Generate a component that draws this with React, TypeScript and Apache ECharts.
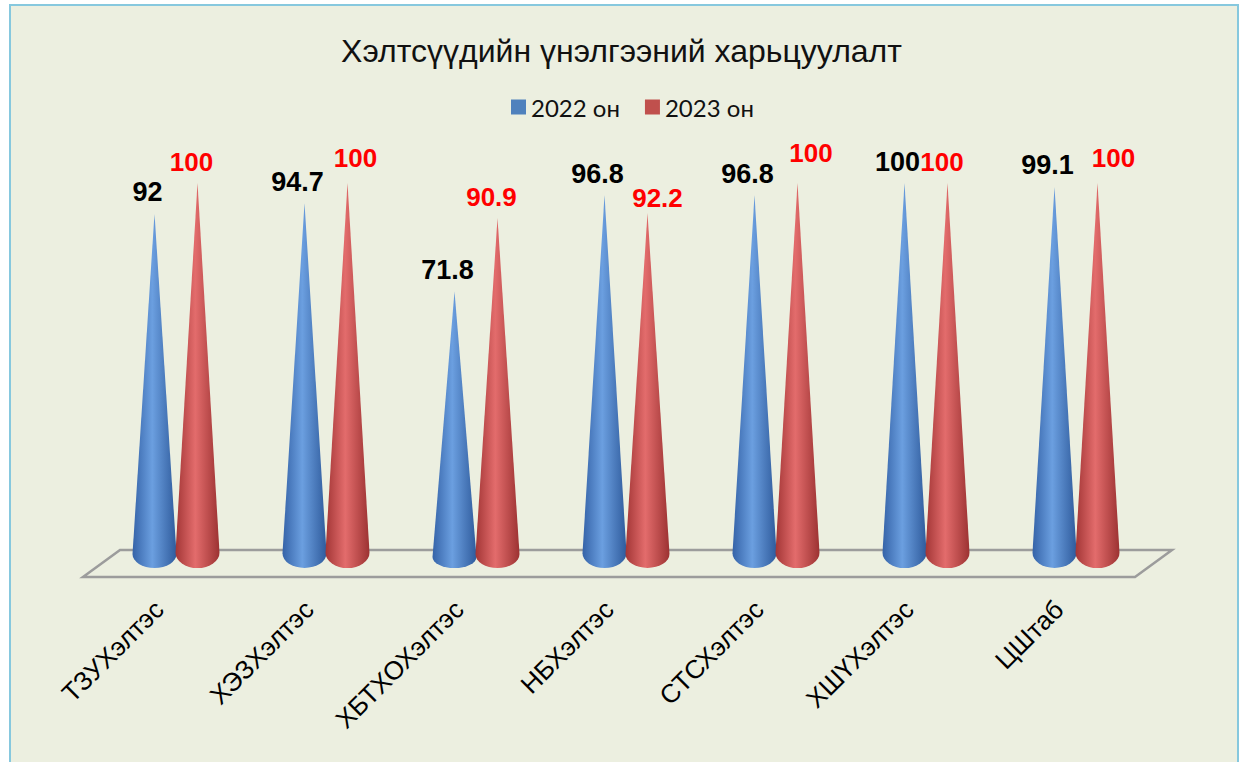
import React, { useEffect, useRef } from "react";
import * as echarts from "echarts";

const categories = ["ТЗУХэлтэс", "ХЭЗХэлтэс", "ХБТХОХэлтэс", "НБХэлтэс", "СТСХэлтэс", "ХШҮХэлтэс", "ЦШтаб"];
const values2022 = [92, 94.7, 71.8, 96.8, 96.8, 100, 99.1];
const values2023 = [100, 100, 90.9, 92.2, 100, 100, 100];
const seriesNames = ["2022 он", "2023 он"];
const title = "Хэлтсүүдийн үнэлгээний харьцуулалт";

// hand-placed label nudges of the 2023 series (pixels), as in the reference
const labelNudge2023 = [[-6, 0], [8, -4], [-6, 0], [10, 5.5], [13.5, -9.5], [-5.5, 0], [16, -4]];

const FONT = "'Liberation Sans', Arial, sans-serif";
const CONE = "path://M50,0 L100,96 A50,4 0 0 1 0,96 Z";

export default function App() {
  const ref = useRef<HTMLDivElement>(null);
  useEffect(() => {
    const chart = echarts.init(ref.current!, null, { renderer: "svg" });
    const blueGrad = new echarts.graphic.LinearGradient(0, 0, 1, 0, [
      { offset: 0, color: "#3563A8" },
      { offset: 0.45, color: "#6B9FE0" },
      { offset: 1, color: "#2F5B9C" },
    ]);
    const redGrad = new echarts.graphic.LinearGradient(0, 0, 1, 0, [
      { offset: 0, color: "#A33636" },
      { offset: 0.45, color: "#E36C6C" },
      { offset: 1, color: "#9C3232" },
    ]);
    chart.setOption({
      animation: false,
      backgroundColor: "#ffffff",
      title: {
        text: title,
        left: "center",
        top: 30,
        textStyle: { fontFamily: FONT, fontSize: 32, fontWeight: "normal", color: "#111" },
      },
      legend: {
        top: 90,
        left: 506,
        itemWidth: 15,
        itemHeight: 15,
        itemGap: 25,
        icon: "rect",
        textStyle: { fontFamily: "Lato, 'Open Sans', sans-serif", fontSize: 24, color: "#111" },
        data: [
          { name: seriesNames[0], itemStyle: { color: "#4F81BD" } },
          { name: seriesNames[1], itemStyle: { color: "#C0504D" } },
        ],
      },
      graphic: [
        {
          type: "rect",
          z: -10,
          shape: { x: 10, y: 5, width: 1228, height: 775 },
          style: { fill: "#ECEFE0", stroke: "#86C8DE", lineWidth: 2 },
        },
        {
          type: "polygon",
          z: 1,
          shape: { points: [[120, 550], [1172, 550], [1135, 577], [83, 577]] },
          style: { fill: "none", stroke: "#9C9C9C", lineWidth: 2.5 },
        },
      ],
      grid: [
        { left: 101, width: 1050, top: 183, bottom: 194 },
        { left: 84, width: 1050, top: 183, bottom: 194 },
      ],
      xAxis: [
        {
          type: "category",
          gridIndex: 0,
          data: categories,
          axisLine: { show: false },
          axisTick: { show: false },
          axisLabel: { show: false },
        },
        {
          type: "category",
          gridIndex: 1,
          data: categories,
          axisLine: { show: false },
          axisTick: { show: false },
          axisLabel: {
            rotate: 45,
            margin: 37,
            fontFamily: FONT,
            fontSize: 26,
            color: "#000",
            interval: 0,
          },
        },
      ],
      yAxis: [
        { type: "value", gridIndex: 0, min: 0, max: 100, show: false },
        { type: "value", gridIndex: 1, min: 0, max: 100, show: false },
      ],
      series: [
        {
          name: seriesNames[0],
          type: "pictorialBar",
          xAxisIndex: 0,
          yAxisIndex: 0,
          data: values2022,
          symbol: CONE,
          symbolSize: [44, "100%"],
          barWidth: 43,
          barGap: "0%",
          z: 3,
          itemStyle: { color: blueGrad },
          label: {
            show: true,
            position: "top",
            distance: 8,
            offset: [-7, 0],
            fontFamily: FONT,
            fontSize: 27,
            fontWeight: "bold",
            color: "#000",
          },
        },
        {
          name: seriesNames[1],
          type: "pictorialBar",
          xAxisIndex: 0,
          yAxisIndex: 0,
          data: values2023.map((v, i) => ({ value: v, label: { offset: labelNudge2023[i] } })),
          symbol: CONE,
          symbolSize: [44, "100%"],
          barWidth: 43,
          barGap: "0%",
          z: 3,
          itemStyle: { color: redGrad },
          label: {
            show: true,
            position: "top",
            distance: 8,
            fontFamily: FONT,
            fontSize: 26,
            fontWeight: "bold",
            color: "#FF0000",
          },
        },
      ],
    });
    return () => chart.dispose();
  }, []);
  return (
    <div
      ref={ref}
      style={{ position: "fixed", left: 0, top: 0, width: 1243, height: 762 }}
    />
  );
}
